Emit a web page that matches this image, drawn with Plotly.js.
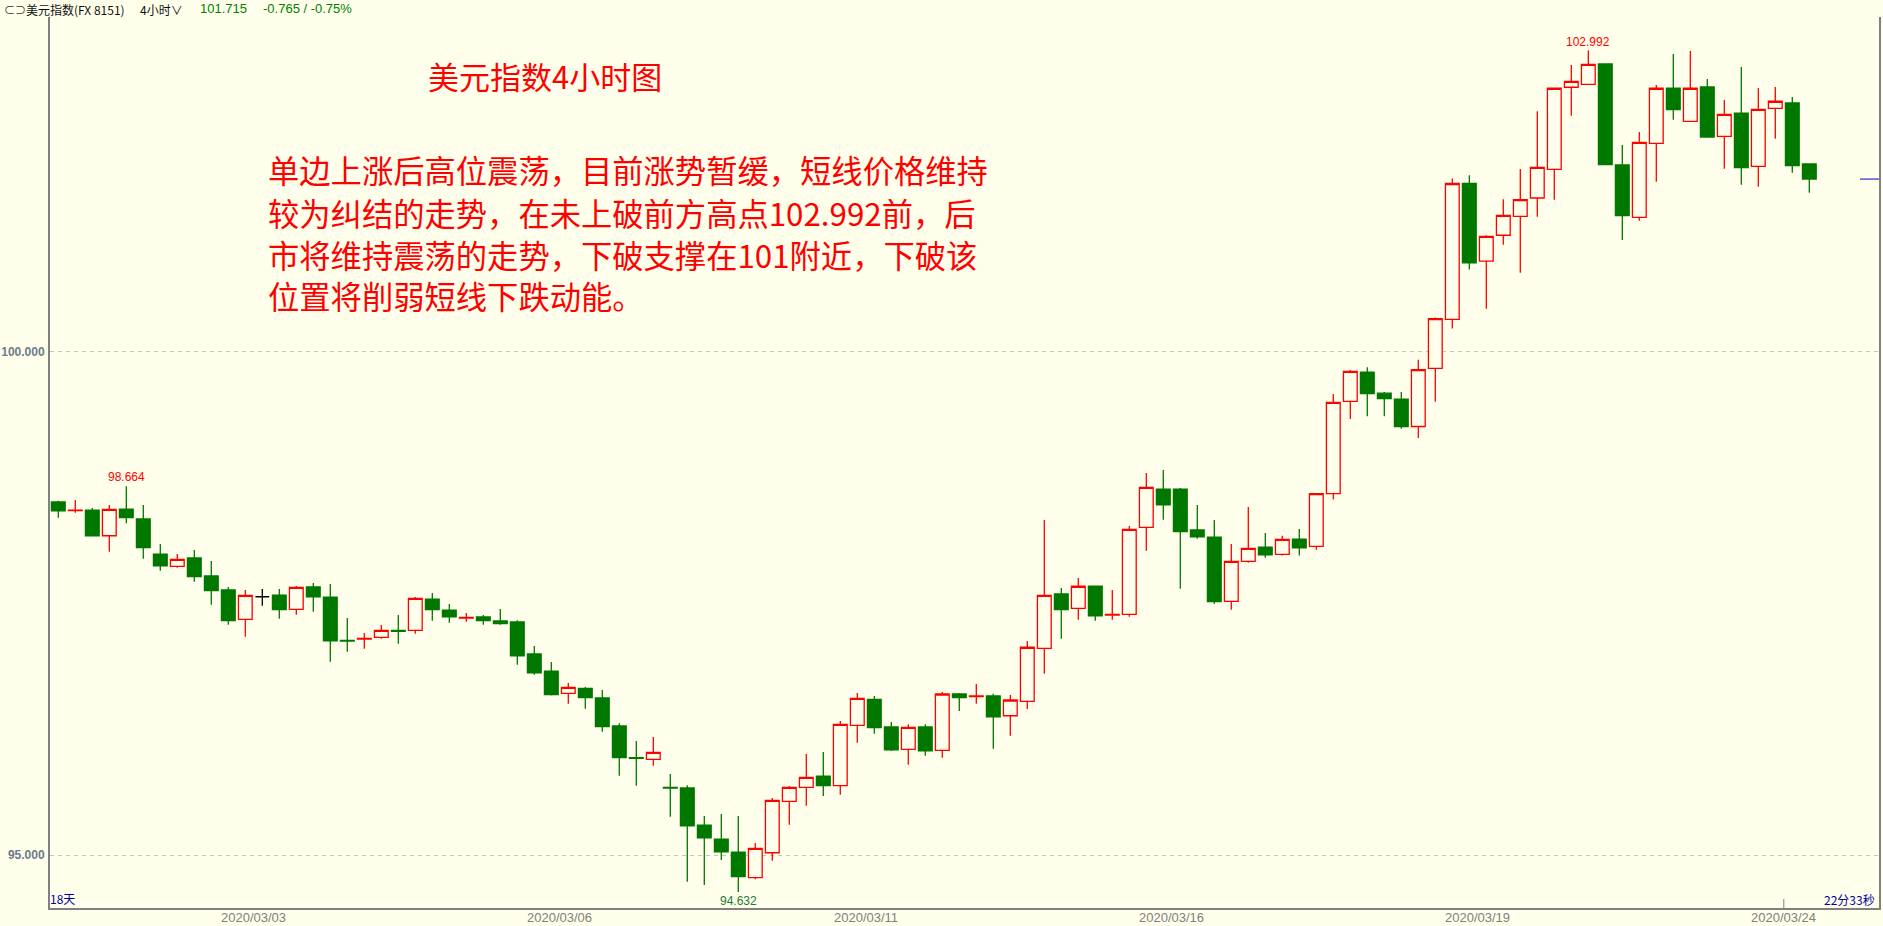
<!DOCTYPE html>
<html>
<head>
<meta charset="utf-8">
<script src="https://cdn.plot.ly/plotly-3.0.1.min.js"></script>
<style>
  html, body { margin: 0; padding: 0; background: #ffffeb; }
  #chart { width: 1883px; height: 926px; }
</style>
</head>
<body>
<div id="chart"></div>
<script>
// ---- Data (4-hour candles, US Dollar Index) ----
const opens = [
  98.507, 98.422, 98.427, 98.172, 98.437, 98.338, 97.990, 97.868, 97.951, 97.772,
  97.633, 97.342, 97.566, 97.583, 97.441, 97.663, 97.563, 97.133, 97.146, 97.163,
  97.232, 97.232, 97.543, 97.434, 97.355, 97.365, 97.325, 97.315, 96.997, 96.828,
  96.607, 96.656, 96.560, 96.282, 95.967, 95.951, 95.673, 95.666, 95.298, 95.159,
  95.030, 94.775, 95.023, 95.534, 95.673, 95.785, 95.689, 96.289, 96.547, 96.272,
  96.050, 96.272, 96.040, 96.600, 96.574, 96.580, 96.384, 96.527, 97.054, 97.593,
  97.451, 97.672, 97.384, 97.391, 98.256, 98.636, 98.636, 98.229, 98.159, 97.520,
  97.918, 98.059, 97.987, 98.139, 98.067, 98.591, 99.507, 99.796, 99.588, 99.530,
  99.257, 99.834, 100.321, 101.671, 100.899, 101.157, 101.344, 101.527, 101.812, 102.627,
  102.656, 102.858, 101.855, 101.335, 102.070, 102.617, 102.289, 102.630, 102.140, 102.371,
  101.842, 102.418, 102.471, 101.865
];
const highs = [
  98.520, 98.527, 98.447, 98.477, 98.664, 98.477, 98.090, 97.990, 98.030, 97.921,
  97.663, 97.633, 97.643, 97.643, 97.672, 97.702, 97.692, 97.355, 97.206, 97.285,
  97.384, 97.563, 97.603, 97.494, 97.404, 97.384, 97.444, 97.332, 97.076, 96.918,
  96.709, 96.669, 96.639, 96.309, 96.133, 96.172, 95.805, 95.693, 95.388, 95.407,
  95.388, 95.119, 95.566, 95.686, 96.004, 96.023, 96.331, 96.610, 96.580, 96.321,
  96.299, 96.299, 96.619, 96.610, 96.699, 96.603, 96.590, 97.126, 98.328, 97.653,
  97.752, 97.675, 97.633, 98.269, 98.795, 98.825, 98.646, 98.477, 98.328, 98.090,
  98.457, 98.199, 98.173, 98.238, 98.595, 99.580, 99.819, 99.846, 99.599, 99.599,
  99.919, 100.340, 101.721, 101.754, 101.157, 101.515, 101.815, 102.389, 102.620, 102.848,
  102.992, 102.862, 102.053, 102.183, 102.649, 102.957, 102.987, 102.709, 102.500, 102.828,
  102.620, 102.630, 102.530, 101.868
];
const lows = [
  98.351, 98.401, 98.165, 98.013, 98.295, 97.944, 97.824, 97.854, 97.715, 97.487,
  97.288, 97.169, 97.477, 97.348, 97.387, 97.417, 96.920, 97.020, 97.050, 97.149,
  97.099, 97.199, 97.328, 97.308, 97.318, 97.288, 97.288, 96.891, 96.791, 96.585,
  96.503, 96.454, 96.225, 95.788, 95.689, 95.887, 95.381, 94.735, 94.702, 94.951,
  94.632, 94.759, 94.944, 95.301, 95.490, 95.586, 95.599, 96.116, 96.205, 96.033,
  95.897, 95.987, 95.967, 96.431, 96.503, 96.056, 96.185, 96.451, 96.801, 97.149,
  97.338, 97.328, 97.338, 97.367, 98.023, 98.331, 97.646, 98.142, 97.497, 97.437,
  97.904, 97.953, 97.975, 97.975, 98.032, 98.531, 99.332, 99.359, 99.359, 99.234,
  99.143, 99.503, 100.230, 100.816, 100.427, 101.063, 100.785, 101.340, 101.510, 102.344,
  102.650, 101.855, 101.110, 101.301, 101.689, 102.305, 102.285, 102.126, 101.818, 101.659,
  101.639, 102.116, 101.778, 101.580
];
const closes = [
  98.420, 98.426, 98.172, 98.434, 98.351, 98.053, 97.874, 97.938, 97.765, 97.626,
  97.328, 97.580, 97.566, 97.437, 97.660, 97.566, 97.129, 97.126, 97.152, 97.232,
  97.222, 97.550, 97.437, 97.367, 97.361, 97.328, 97.298, 96.980, 96.811, 96.593,
  96.666, 96.563, 96.275, 95.967, 95.961, 96.020, 95.666, 95.291, 95.172, 95.033,
  94.785, 95.067, 95.544, 95.673, 95.772, 95.689, 96.299, 96.557, 96.265, 96.046,
  96.269, 96.036, 96.600, 96.563, 96.580, 96.374, 96.540, 97.064, 97.580, 97.437,
  97.670, 97.377, 97.390, 98.236, 98.653, 98.480, 98.212, 98.162, 97.517, 97.918,
  98.047, 97.983, 98.135, 98.051, 98.591, 99.496, 99.804, 99.584, 99.534, 99.257,
  99.823, 100.329, 101.671, 100.884, 101.146, 101.355, 101.511, 101.831, 102.617, 102.686,
  102.855, 101.858, 101.351, 102.080, 102.617, 102.404, 102.617, 102.133, 102.358, 101.828,
  102.408, 102.488, 101.848, 101.715
];
// candle that closed unchanged (drawn black)
const flatCandles = [12];
const dateLabels = ['2020/03/03', '2020/03/06', '2020/03/11', '2020/03/16', '2020/03/19', '2020/03/24'];
const dateTickCandle = [11.5, 29.5, 47.5, 65.5, 83.5, 101.5];

const headerName = '美元指数(FX 8151)';
const headerPeriod = '4小时∨';
const headerLast = '101.715';
const headerChange = '-0.765 / -0.75%';
const chartTitle = '美元指数4小时图';
const commentLines = [
  '单边上涨后高位震荡，目前涨势暂缓，短线价格维持',
  '较为纠结的走势，在未上破前方高点102.992前，后',
  '市将维持震荡的走势，下破支撑在101附近，下破该',
  '位置将削弱短线下跌动能。'
];
const leftInfo = '18天';
const rightInfo = '22分33秒';

// ---- build ----
const idx = opens.map((_, i) => i);
const mainIdx = idx.filter(i => !flatCandles.includes(i));
const pick = (arr, ids) => ids.map(i => arr[i]);

const BG = '#ffffeb';
const RED = '#ff0000';
const GREEN = '#007800';

const mainTrace = {
  type: 'candlestick',
  x: mainIdx,
  open: pick(opens, mainIdx), high: pick(highs, mainIdx),
  low: pick(lows, mainIdx), close: pick(closes, mainIdx),
  increasing: { line: { color: RED, width: 1.3 }, fillcolor: BG },
  decreasing: { line: { color: GREEN, width: 1.3 }, fillcolor: GREEN },
  whiskerwidth: 0,
  hoverinfo: 'skip',
  showlegend: false
};
const flatTrace = {
  type: 'candlestick',
  x: flatCandles,
  open: pick(opens, flatCandles), high: pick(highs, flatCandles),
  low: pick(lows, flatCandles), close: pick(closes, flatCandles),
  increasing: { line: { color: '#000000', width: 1.3 }, fillcolor: '#000000' },
  decreasing: { line: { color: '#000000', width: 1.3 }, fillcolor: '#000000' },
  whiskerwidth: 0,
  hoverinfo: 'skip',
  showlegend: false
};

// plot area in pixels: x 50..1879, y 17..908
const L = 50, R = 1879, T = 17, B = 908;
const px = x => (x - L) / (R - L);
const py = y => (B - y) / (B - T);

const cjk = '"Noto Sans CJK SC", "Noto Sans", sans-serif';
function pa(text, x, y, xanchor, font, yanchor) {
  return { xref: 'paper', yref: 'paper', x: px(x), y: py(y), text: text,
           showarrow: false, xanchor: xanchor, yanchor: yanchor || 'middle', font: font };
}
function head(text, x, font) {
  const a = pa(text, x, 0, 'left', font, 'top');
  a.borderpad = 0;
  return a;
}

const annotations = [
  head('⊂⊃', 3, { family: cjk, size: 11, color: '#333333' }),
  head(headerName, 25, { family: cjk, size: 12, color: '#111111' }),
  head(headerPeriod, 139, { family: cjk, size: 12, color: '#111111' }),
  head(headerLast, 199, { family: 'Liberation Sans, Arial, sans-serif', size: 13, color: '#008000' }),
  head(headerChange, 262, { family: 'Liberation Sans, Arial, sans-serif', size: 13, color: '#008000' }),
  pa(chartTitle, 426, 75, 'left', { family: cjk, size: 31, color: RED }),
  pa(leftInfo, 48, 898, 'left', { family: cjk, size: 12, color: '#0000a0' }),
  pa(rightInfo, 1877, 899, 'right', { family: cjk, size: 12, color: '#0000a0' })
];
const lineY = [169, 212.5, 254.6, 295.4];
commentLines.forEach((t, i) => {
  annotations.push(pa(t, 266, lineY[i], 'left', { family: cjk, size: 31.3, color: RED }));
});

// extreme value labels
let hiI = 0, loI = 0;
highs.forEach((v, i) => { if (v > highs[hiI]) hiI = i; });
lows.forEach((v, i) => { if (v < lows[loI]) loI = i; });
const markHigh = [4, hiI];
markHigh.forEach(i => annotations.push({
  xref: 'x', yref: 'y', x: i, y: highs[i], text: highs[i].toFixed(3),
  showarrow: false, xanchor: 'center', yanchor: 'bottom', yshift: 0,
  font: { family: 'Liberation Sans, Arial, sans-serif', size: 12, color: RED }
}));
annotations.push({
  xref: 'x', yref: 'y', x: loI, y: lows[loI], text: lows[loI].toFixed(3),
  showarrow: false, xanchor: 'center', yanchor: 'top', yshift: 0,
  font: { family: 'Liberation Sans, Arial, sans-serif', size: 12, color: '#1a7a3a' }
});

// date labels under the axis
dateLabels.forEach((t, i) => annotations.push({
  xref: 'x', yref: 'paper', x: dateTickCandle[i], y: py(917), text: t,
  showarrow: false, xanchor: 'center', yanchor: 'middle',
  font: { family: 'Liberation Sans, Arial, sans-serif', size: 13, color: '#808080' }
}));

const lastClose = closes[closes.length - 1];
const shapes = [
  { type: 'line', xref: 'paper', yref: 'y', x0: px(1860), x1: 1, y0: lastClose, y1: lastClose,
    line: { color: '#0000c8', width: 1 } },
  { type: 'line', xref: 'x', yref: 'paper', x0: dateTickCandle[5], x1: dateTickCandle[5],
    y0: 0, y1: py(899), line: { color: '#808080', width: 1 } }
];

const layout = {
  width: 1883, height: 926,
  margin: { l: L, r: 1883 - R, t: T, b: 926 - B, pad: 0 },
  paper_bgcolor: BG, plot_bgcolor: BG,
  showlegend: false,
  boxgap: 0.1, boxgroupgap: 0.1,
  xaxis: {
    range: [(L - 58.3) / 17, (R - 58.3) / 17],
    rangeslider: { visible: false },
    showgrid: false, zeroline: false,
    showline: true, linecolor: '#808080', linewidth: 2,
    showticklabels: false, ticks: '',
    fixedrange: true
  },
  yaxis: {
    range: [94.474, 103.325],
    showgrid: true, gridcolor: '#c4c4c4', griddash: '4px,4px', gridwidth: 1,
    zeroline: false,
    showline: true, linecolor: '#808080', linewidth: 2, mirror: true,
    tickmode: 'array', tickvals: [95, 100], tickformat: '.3f',
    ticks: '', ticklabelstandoff: 1,
    tickfont: { family: 'Liberation Sans, Arial, sans-serif', size: 12, color: '#6b7b8b', weight: 'bold' },
    fixedrange: true
  },
  annotations: annotations,
  shapes: shapes
};

Plotly.newPlot('chart', [mainTrace, flatTrace], layout, { displayModeBar: false, staticPlot: true });
</script>
</body>
</html>
